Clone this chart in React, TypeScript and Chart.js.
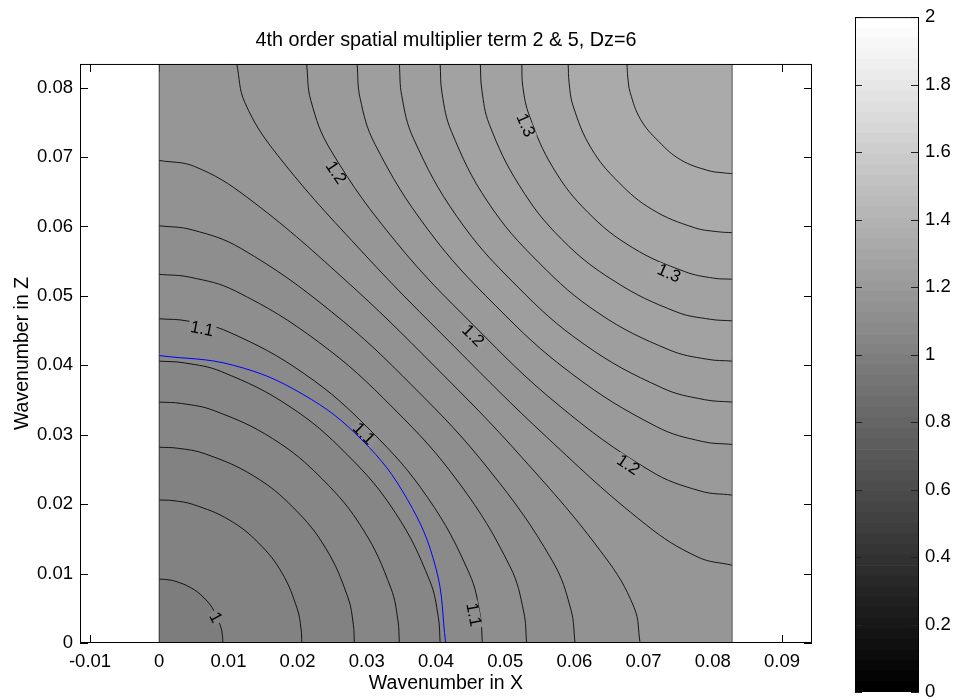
import React, { useEffect, useRef } from 'react';
import { Chart, registerables } from 'chart.js';

Chart.register(...registerables);

const FONT = '"Liberation Sans", Arial, Helvetica, sans-serif';

const TITLE = '4th order spatial multiplier term 2 & 5, Dz=6';
const X_TITLE = 'Wavenumber in X';
const Y_TITLE = 'Wavenumber in Z';

const xTicks = [-0.01, 0, 0.01, 0.02, 0.03, 0.04, 0.05, 0.06, 0.07, 0.08, 0.09];
const yTicks = [0, 0.01, 0.02, 0.03, 0.04, 0.05, 0.06, 0.07, 0.08];
const colorbarTicks = [0, 0.2, 0.4, 0.6, 0.8, 1, 1.2, 1.4, 1.6, 1.8, 2];

const xRange = [-0.01145, 0.09434];
const yRange = [0, 0.0834];
const dataXMax = 0.0828;
const dataYMax = 0.0834;
const colorLimits = [0, 2];
const colormapSteps = 64;
const minValue = 0.995;

const contourLevels = [1.0, 1.02, 1.04, 1.06, 1.08, 1.1, 1.12, 1.14, 1.16, 1.18, 1.2, 1.22, 1.24, 1.26, 1.28, 1.3, 1.32, 1.34];

const contourX = [
  [0, 0.00092, 0.00224, 0.00458, 0.00649, 0.00796, 0.00892, 0.00915, 0.0092],
  [0, 0.00201, 0.00493, 0.01011, 0.01438, 0.01773, 0.01994, 0.0205, 0.0206],
  [0, 0.00269, 0.0066, 0.01359, 0.01944, 0.0241, 0.02726, 0.02805, 0.0282],
  [0, 0.00323, 0.00793, 0.01639, 0.02359, 0.02944, 0.03347, 0.0345, 0.0347],
  [0, 0.00368, 0.00904, 0.01875, 0.02715, 0.03413, 0.03907, 0.04034, 0.0406],
  [0, 0.00409, 0.01007, 0.02097, 0.03057, 0.03878, 0.04479, 0.04638, 0.0467],
  [0, 0.00447, 0.01101, 0.02304, 0.03383, 0.04334, 0.0507, 0.05268, 0.0531],
  [0, 0.0048, 0.01185, 0.02489, 0.03682, 0.04772, 0.05681, 0.0595, 0.0601],
  [0, 0.00512, 0.01264, 0.02668, 0.03983, 0.05246, 0.06424, 0.06863, 0.0695],
  [0.0112, 0.01238, 0.01714, 0.02965, 0.04267, 0.056, 0.07022, 0.07783, 0.0828],
  [0.0213, 0.02191, 0.02481, 0.0343, 0.0456, 0.05767, 0.07094, 0.07814, 0.0828],
  [0.0286, 0.02903, 0.03118, 0.03882, 0.0486, 0.05957, 0.07184, 0.07847, 0.0828],
  [0.0347, 0.03505, 0.03674, 0.04303, 0.05155, 0.06141, 0.07268, 0.07881, 0.0828],
  [0.0406, 0.04087, 0.04224, 0.04747, 0.05483, 0.06355, 0.07365, 0.0792, 0.0828],
  [0.0464, 0.04663, 0.0477, 0.05206, 0.05816, 0.06587, 0.07472, 0.07963, 0.0828],
  [0.0524, 0.05255, 0.05351, 0.05693, 0.06199, 0.06843, 0.07591, 0.08011, 0.0828],
  [0.0591, 0.05924, 0.05982, 0.06243, 0.06638, 0.07126, 0.07733, 0.08069, 0.0828],
  [0.0676, 0.06772, 0.06806, 0.06959, 0.07221, 0.07537, 0.07929, 0.08149, 0.0828],
];

const contourY = [
  [0.0092, 0.00915, 0.00892, 0.00796, 0.00649, 0.00458, 0.00224, 0.00092, 0],
  [0.0206, 0.0205, 0.01994, 0.01773, 0.01438, 0.01011, 0.00493, 0.00201, 0],
  [0.0282, 0.02805, 0.02726, 0.0241, 0.01944, 0.01359, 0.0066, 0.00269, 0],
  [0.0347, 0.0345, 0.03347, 0.02944, 0.02359, 0.01639, 0.00793, 0.00323, 0],
  [0.0406, 0.04034, 0.03907, 0.03413, 0.02715, 0.01875, 0.00904, 0.00368, 0],
  [0.0467, 0.04638, 0.04479, 0.03878, 0.03057, 0.02097, 0.01007, 0.00409, 0],
  [0.0531, 0.05268, 0.0507, 0.04334, 0.03383, 0.02304, 0.01101, 0.00447, 0],
  [0.0601, 0.0595, 0.05681, 0.04772, 0.03682, 0.02489, 0.01185, 0.0048, 0],
  [0.0695, 0.06863, 0.06424, 0.05246, 0.03983, 0.02668, 0.01264, 0.00512, 0],
  [0.0834, 0.07783, 0.07022, 0.056, 0.04267, 0.02965, 0.01714, 0.01238, 0.0112],
  [0.0834, 0.07814, 0.07094, 0.05767, 0.0456, 0.0343, 0.02481, 0.02191, 0.0213],
  [0.0834, 0.07847, 0.07184, 0.05957, 0.0486, 0.03882, 0.03118, 0.02903, 0.0286],
  [0.0834, 0.07881, 0.07268, 0.06141, 0.05155, 0.04303, 0.03674, 0.03505, 0.0347],
  [0.0834, 0.0792, 0.07365, 0.06355, 0.05483, 0.04747, 0.04224, 0.04087, 0.0406],
  [0.0834, 0.07963, 0.07472, 0.06587, 0.05816, 0.05206, 0.0477, 0.04663, 0.0464],
  [0.0834, 0.08011, 0.07591, 0.06843, 0.06199, 0.05693, 0.05351, 0.05255, 0.0524],
  [0.0834, 0.08069, 0.07733, 0.07126, 0.06638, 0.06243, 0.05982, 0.05924, 0.0591],
  [0.0834, 0.08149, 0.07929, 0.07537, 0.07221, 0.06959, 0.06806, 0.06772, 0.0676],
];

const circleX = [0, 0.01072, 0.0207, 0.02927, 0.03585, 0.04, 0.0414];
const circleY = [0.0414, 0.04, 0.03585, 0.02927, 0.0207, 0.01072, 0];

const labelText = ['1', '1.1', '1.1', '1.1', '1.2', '1.2', '1.2', '1.3', '1.3'];
const labelX = [0.0082, 0.0062, 0.0296, 0.0455, 0.0256, 0.0454, 0.0678, 0.053, 0.0737];
const labelY = [0.0037, 0.0453, 0.0302, 0.0041, 0.0678, 0.0443, 0.0257, 0.0746, 0.0533];
const labelAngle = [62, 11, 45, 79, 56, 45, 34, 66, 24];
const labelLevel = [1.0, 1.1, 1.1, 1.1, 1.2, 1.2, 1.2, 1.3, 1.3];

function grayIndex(v: number) {
  const t = (v - colorLimits[0]) / (colorLimits[1] - colorLimits[0]);
  return Math.max(0, Math.min(colormapSteps - 1, Math.floor(t * colormapSteps + 1e-9)));
}
function grayFor(v: number) {
  const g = Math.round((grayIndex(v) / (colormapSteps - 1)) * 255);
  return `rgb(${g},${g},${g})`;
}
function fmt(v: number) {
  return String(parseFloat(Number(v).toFixed(3)));
}

const mainPlugin = {
  id: 'matlabAxes',
  beforeDatasetsDraw(chart: any) {
    const { ctx, chartArea: a, scales } = chart;
    const x = scales.x, y = scales.y;
    ctx.save();
    ctx.strokeStyle = '#000';
    ctx.lineWidth = 1;
    ctx.beginPath();
    xTicks.forEach((v) => {
      const px = Math.round(x.getPixelForValue(v)) + 0.5;
      ctx.moveTo(px, a.bottom);
      ctx.lineTo(px, a.bottom - 8);
      ctx.moveTo(px, a.top);
      ctx.lineTo(px, a.top + 8);
    });
    yTicks.forEach((v) => {
      const py = Math.round(y.getPixelForValue(v)) + 0.5;
      ctx.moveTo(a.left, py);
      ctx.lineTo(a.left + 8, py);
      ctx.moveTo(a.right, py);
      ctx.lineTo(a.right - 8, py);
    });
    ctx.stroke();
    ctx.restore();
  },
  beforeDatasetDraw(chart: any, args: any) {
    const ds = chart.data.datasets[args.index];
    if (ds.label !== 'circle') return;
    const { ctx, scales } = chart;
    const x = scales.x, y = scales.y;
    ctx.save();
    ctx.font = `17px ${FONT}`;
    labelText.forEach((t, i) => {
      const px = x.getPixelForValue(labelX[i]);
      const py = y.getPixelForValue(labelY[i]);
      ctx.save();
      ctx.translate(px, py);
      ctx.rotate((labelAngle[i] * Math.PI) / 180);
      const w = ctx.measureText(t).width;
      ctx.fillStyle = grayFor(labelLevel[i]);
      ctx.fillRect(-w / 2 - 2, -6, w + 4, 12);
      ctx.fillStyle = '#000';
      ctx.textAlign = 'center';
      ctx.textBaseline = 'middle';
      ctx.fillText(t, 0, 1);
      ctx.restore();
    });
    ctx.restore();
  },
  afterDatasetsDraw(chart: any) {
    const { ctx, chartArea: a } = chart;
    ctx.save();
    ctx.strokeStyle = '#000';
    ctx.lineWidth = 1;
    ctx.strokeRect(a.left + 0.5, a.top + 0.5, a.right - a.left - 1, a.bottom - a.top - 1);
    ctx.restore();
  },
};

function buildMainConfig(): any {
  const datasets: any[] = [];
  const lastLower = contourX.reduce((acc, xs, i) => (xs[0] === 0 ? i : acc), 0);
  datasets.push({
    label: 'background',
    data: [
      { x: 0, y: dataYMax },
      { x: dataXMax, y: dataYMax },
    ],
    fill: 'origin',
    backgroundColor: grayFor(contourLevels[lastLower]),
    borderWidth: 0,
    pointRadius: 0,
    order: 100,
  });
  contourLevels.forEach((lvl, i) => {
    const lower = contourX[i][0] === 0;
    datasets.push({
      label: `c${lvl}`,
      data: contourX[i].map((xv, j) => ({ x: xv, y: contourY[i][j] })),
      fill: lower ? 'origin' : 'end',
      backgroundColor: lower ? grayFor(i === 0 ? minValue : contourLevels[i - 1]) : grayFor(lvl),
      borderColor: 'rgba(0,0,0,0.85)',
      borderWidth: 1,
      tension: 0.4,
      pointRadius: 0,
      order: lower ? 80 + i : 70 - i,
    });
  });
  datasets.push({
    label: 'edgeLeft',
    data: [
      { x: 0, y: 0 },
      { x: 0, y: dataYMax },
    ],
    borderColor: '#333',
    borderWidth: 1,
    pointRadius: 0,
    fill: false,
    order: 5,
  });
  datasets.push({
    label: 'edgeRight',
    data: [
      { x: dataXMax, y: 0 },
      { x: dataXMax, y: dataYMax },
    ],
    borderColor: '#555',
    borderWidth: 1,
    pointRadius: 0,
    fill: false,
    order: 5,
  });
  datasets.push({
    label: 'circle',
    data: circleX.map((xv, j) => ({ x: xv, y: circleY[j] })),
    borderColor: '#0000ff',
    borderWidth: 1,
    tension: 0.4,
    pointRadius: 0,
    fill: false,
    order: 1,
  });

  return {
    type: 'line',
    data: { datasets },
    plugins: [mainPlugin],
    options: {
      responsive: false,
      animation: false,
      events: [],
      layout: { padding: { left: 0, right: 147, top: 0, bottom: 0 } },
      plugins: {
        legend: { display: false },
        tooltip: { enabled: false },
        title: {
          display: true,
          text: TITLE,
          fullSize: false,
          color: '#000',
          font: { size: 19.8, weight: 'normal', family: FONT },
          padding: { top: 29, bottom: 11.2 },
        },
      },
      scales: {
        x: {
          type: 'linear',
          min: xRange[0],
          max: xRange[1],
          grid: { display: false, drawTicks: false },
          border: { display: false },
          afterBuildTicks: (s: any) => {
            s.ticks = xTicks.map((v) => ({ value: v }));
          },
          afterFit: (s: any) => {
            s.height = 57;
          },
          ticks: {
            autoSkip: false,
            maxRotation: 0,
            padding: 8,
            color: '#000',
            font: { size: 18.5, family: FONT },
            callback: (v: any) => fmt(v),
          },
          title: {
            display: true,
            text: X_TITLE,
            color: '#000',
            font: { size: 19.5, family: FONT },
            padding: { top: 0, bottom: 5 },
          },
        },
        y: {
          type: 'linear',
          min: yRange[0],
          max: yRange[1],
          grid: { display: false, drawTicks: false },
          border: { display: false },
          afterBuildTicks: (s: any) => {
            s.ticks = yTicks.map((v) => ({ value: v }));
          },
          afterFit: (s: any) => {
            s.width = 80;
          },
          ticks: {
            autoSkip: false,
            padding: 7,
            color: '#000',
            font: { size: 18.5, family: FONT },
            callback: (v: any) => fmt(v),
          },
          title: {
            display: true,
            text: Y_TITLE,
            color: '#000',
            font: { size: 19.5, family: FONT },
            padding: { top: 11, bottom: 0 },
          },
        },
      },
    },
  };
}

const colorbarPlugin = {
  id: 'colorbarFrame',
  afterDatasetsDraw(chart: any) {
    const { ctx, chartArea: a, scales } = chart;
    const y = scales.y;
    ctx.save();
    ctx.strokeStyle = '#222';
    ctx.lineWidth = 1;
    ctx.beginPath();
    colorbarTicks.forEach((v) => {
      const py = Math.round(y.getPixelForValue(v)) + 0.5;
      ctx.moveTo(a.left, py);
      ctx.lineTo(a.left + 7, py);
      ctx.moveTo(a.right, py);
      ctx.lineTo(a.right - 8, py);
    });
    ctx.stroke();
    ctx.strokeStyle = '#000';
    ctx.strokeRect(a.left + 0.5, a.top + 0.5, a.right - a.left - 1, a.bottom - a.top - 1);
    ctx.restore();
  },
};

function buildColorbarConfig(): any {
  const span = colorLimits[1] - colorLimits[0];
  const datasets = Array.from({ length: colormapSteps }, (_, i) => {
    const g = Math.round((i / (colormapSteps - 1)) * 255);
    return {
      data: [[colorLimits[0] + (i / colormapSteps) * span, colorLimits[0] + ((i + 1) / colormapSteps) * span]],
      backgroundColor: `rgb(${g},${g},${g})`,
      borderWidth: 0,
      grouped: false,
      barPercentage: 1,
      categoryPercentage: 1,
    };
  });
  return {
    type: 'bar',
    data: { labels: [''], datasets },
    plugins: [colorbarPlugin],
    options: {
      responsive: false,
      animation: false,
      events: [],
      layout: { padding: { left: 15, right: 0, top: 16, bottom: 28 } },
      plugins: { legend: { display: false }, tooltip: { enabled: false }, title: { display: false } },
      scales: {
        x: { display: false },
        y: {
          type: 'linear',
          position: 'right',
          min: colorLimits[0],
          max: colorLimits[1],
          grid: { display: false, drawTicks: false },
          border: { display: false },
          afterBuildTicks: (s: any) => {
            s.ticks = colorbarTicks.map((v) => ({ value: v }));
          },
          afterFit: (s: any) => {
            s.width = 40;
          },
          ticks: {
            autoSkip: false,
            padding: 6,
            color: '#000',
            font: { size: 18.5, family: FONT },
            callback: (v: any) => fmt(v),
          },
        },
      },
    },
  };
}

export default function App() {
  const mainRef = useRef<HTMLCanvasElement>(null);
  const cbRef = useRef<HTMLCanvasElement>(null);
  useEffect(() => {
    Chart.defaults.font.family = FONT;
    const c1 = new Chart(mainRef.current as HTMLCanvasElement, buildMainConfig());
    const c2 = new Chart(cbRef.current as HTMLCanvasElement, buildColorbarConfig());
    return () => {
      c1.destroy();
      c2.destroy();
    };
  }, []);
  return (
    <div style={{ position: 'fixed', left: 0, top: 0, width: 959, height: 700, overflow: 'hidden', background: '#fff' }}>
      <canvas ref={mainRef} width={959} height={700} style={{ position: 'absolute', left: 0, top: 0 }} />
      <canvas ref={cbRef} width={119} height={720} style={{ position: 'absolute', left: 840, top: 0 }} />
    </div>
  );
}
